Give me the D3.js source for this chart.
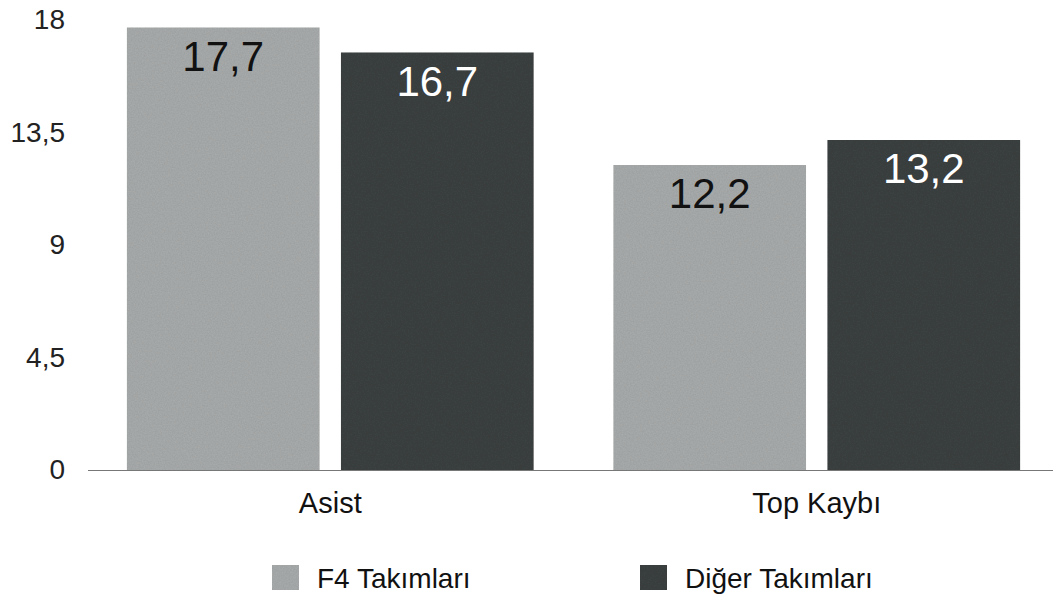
<!DOCTYPE html>
<html>
<head>
<meta charset="utf-8">
<script src="https://cdn.jsdelivr.net/npm/d3@7"></script>
<style>
  body { margin: 0; background: #fff; }
  text { font-family: "Liberation Sans", Arial, Helvetica, sans-serif; }
</style>
</head>
<body>
<div id="chart"></div>
<script>
const categories = ["Asist", "Top Kaybı"];
const seriesNames = ["F4 Takımları", "Diğer Takımları"];
const f4Values = [17.7, 12.2];
const otherValues = [16.7, 13.2];
const yTicks = [0, 4.5, 9, 13.5, 18];

const width = 1053;
const height = 602;

const svg = d3.select("#chart")
    .append("svg")
    .attr("width", width)
    .attr("height", height);

// concrete-ish texture for the bars
const defs = svg.append("defs");
const filter = defs.append("filter")
    .attr("id", "grain")
    .attr("x", 0).attr("y", 0).attr("width", 1).attr("height", 1);
filter.append("feTurbulence")
    .attr("type", "fractalNoise")
    .attr("baseFrequency", 0.7)
    .attr("numOctaves", 2)
    .attr("seed", 3)
    .attr("result", "noise");
filter.append("feColorMatrix")
    .attr("in", "noise")
    .attr("type", "matrix")
    .attr("values", "0 0 0 0 0  0 0 0 0 0  0 0 0 0 0  0 0 0 0.18 0")
    .attr("result", "dots");
filter.append("feComposite")
    .attr("in", "dots")
    .attr("in2", "SourceGraphic")
    .attr("operator", "in")
    .attr("result", "grainIn");
const merge = filter.append("feMerge");
merge.append("feMergeNode").attr("in", "SourceGraphic");
merge.append("feMergeNode").attr("in", "grainIn");

const rows = categories.map((c, i) => ({
    category: c,
    values: [f4Values[i], otherValues[i]]
}));

const y = d3.scaleLinear()
    .domain([0, 18])
    .range([470, 20]);

const x0 = d3.scaleBand()
    .domain(categories)
    .range([88, 1059])
    .paddingInner(0.164)
    .paddingOuter(0.08);

const x1 = d3.scaleBand()
    .domain(seriesNames)
    .range([0, x0.bandwidth()])
    .paddingInner(0.1);

const color = d3.scaleOrdinal()
    .domain(seriesNames)
    .range(["#aaadad", "#3e4242"]);

const labelColor = d3.scaleOrdinal()
    .domain(seriesNames)
    .range(["#111", "#fff"]);

// Y axis labels
const yAxis = svg.append("g")
    .attr("transform", "translate(65,0)")
    .call(d3.axisLeft(y)
        .tickValues(yTicks)
        .tickSize(0)
        .tickPadding(0)
        .tickFormat(d => String(d).replace(".", ",")));
yAxis.select(".domain").remove();
yAxis.selectAll("text")
    .style("font-size", "28px")
    .attr("fill", "#222")
    .style("font-family", "'Liberation Sans', Arial, sans-serif");

// Bars
const groups = svg.selectAll(".group")
    .data(rows)
    .join("g")
    .attr("class", "group")
    .attr("transform", d => `translate(${x0(d.category)},0)`);

const cells = groups.selectAll("g")
    .data(d => d.values.map((v, i) => ({ key: seriesNames[i], value: v })))
    .join("g");

cells.append("rect")
    .attr("x", d => x1(d.key))
    .attr("y", d => y(d.value))
    .attr("width", x1.bandwidth())
    .attr("height", d => y(0) - y(d.value))
    .attr("fill", d => color(d.key))
    .attr("filter", "url(#grain)");

cells.append("text")
    .attr("x", d => x1(d.key) + x1.bandwidth() / 2)
    .attr("y", d => y(d.value) + 43)
    .attr("text-anchor", "middle")
    .style("font-size", "42px")
    .attr("fill", d => labelColor(d.key))
    .text(d => String(d.value).replace(".", ","));

// X axis
const xAxis = svg.append("g")
    .attr("transform", `translate(0,${y(0)})`)
    .call(d3.axisBottom(x0).tickSize(0).tickPadding(0));
xAxis.select(".domain").remove();
xAxis.selectAll("text")
    .attr("dy", null)
    .attr("y", 43)
    .style("font-size", "29px")
    .attr("fill", "#111")
    .style("font-family", "'Liberation Sans', Arial, sans-serif");

svg.append("line")
    .attr("x1", 88)
    .attr("x2", 1053)
    .attr("y1", y(0) + 0.5)
    .attr("y2", y(0) + 0.5)
    .attr("stroke", "#777")
    .attr("stroke-width", 1.2);

// Legend
const legendX = [272, 640];
const legend = svg.selectAll(".legend")
    .data(seriesNames)
    .join("g")
    .attr("class", "legend")
    .attr("transform", (d, i) => `translate(${legendX[i]},565)`);

legend.append("rect")
    .attr("width", 27)
    .attr("height", 25)
    .attr("fill", d => color(d))
    .attr("filter", "url(#grain)");

legend.append("text")
    .attr("x", 45)
    .attr("y", 23)
    .style("font-size", "28px")
    .attr("fill", "#111")
    .text(d => d);
</script>
</body>
</html>
